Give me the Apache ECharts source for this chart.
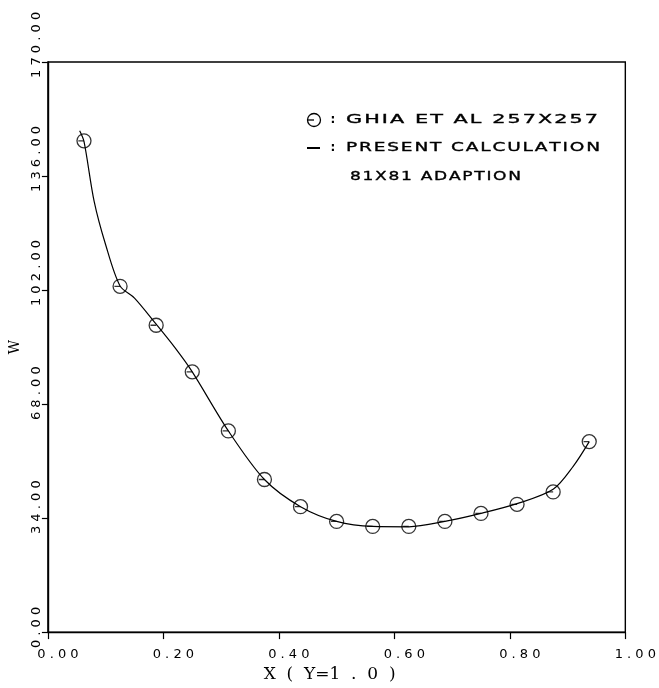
<!DOCTYPE html>
<html>
<head>
<meta charset="utf-8">
<script src="https://cdn.jsdelivr.net/npm/echarts@6/dist/echarts.min.js"></script>
<style>
  html, body { margin: 0; padding: 0; background: #fff; }
  #chart { width: 659px; height: 688px; }
</style>
</head>
<body>
<div id="chart"></div>
<script>
// Ghia et al. 257x257 : vorticity on the lid (circles)
const ghiaX = [0.0625, 0.125, 0.1875, 0.25, 0.3125, 0.375, 0.4375, 0.5, 0.5625, 0.625, 0.6875, 0.75, 0.8125, 0.875, 0.9375];
const ghiaW = [146.5, 103.1, 91.5, 77.6, 60.0, 45.5, 37.4, 33.0, 31.5, 31.5, 33.0, 35.4, 38.1, 41.8, 56.8];

// present calculation, 81x81 adaption (solid curve)
const calcX = [0.055, 0.0625, 0.08, 0.1, 0.125, 0.15, 0.1875, 0.22, 0.25, 0.3125, 0.375, 0.4375, 0.5, 0.5625, 0.625, 0.6875, 0.75, 0.8125, 0.875, 0.91, 0.9375];
const calcW = [149.5, 146.3, 128.5, 115.5, 103.2, 99.6, 91.8, 84.8, 77.6, 60.0, 45.5, 37.4, 33.0, 31.5, 31.4, 33.0, 35.4, 38.3, 42.6, 49.5, 56.8];

const xTicks = [0, 0.2, 0.4, 0.6, 0.8, 1.0];
const yTicks = [0, 34, 68, 102, 136, 170];
const legendLines = ['GHIA ET AL 257X257', 'PRESENT CALCULATION', '81X81 ADAPTION'];

const ink = '#000';
const tickFont = '"DejaVu Sans", sans-serif';

// plotter style numbers, every glyph spread apart
const plotNum = v => v.toFixed(2).split('').join(' ');

const ctx = document.createElement('canvas').getContext('2d');
const measure = (text, font) => { ctx.font = font; return ctx.measureText(text).width; };

// y labels start ~16px below their tick and run upward
const yRich = {};
yTicks.forEach((v, i) => {
    const w = measure(plotNum(v), '13px "DejaVu Sans"');
    yRich['t' + i] = {
        fontSize: 13,
        fontFamily: tickFont,
        color: ink,
        padding: [0, 0, 0, Math.max(0, w - 32)]
    };
});

// stretched legend text
const legendText = (str, x, y, w) => {
    const font = '12.5px "DejaVu Sans"';
    const text = str.split('').join('\u200A');
    return {
        type: 'text',
        x: x,
        y: y,
        scaleX: w / measure(text, font),
        style: { text: text, font: font, fill: ink, stroke: ink, lineWidth: 0.35, align: 'left', verticalAlign: 'middle' }
    };
};

const chart = echarts.init(document.getElementById('chart'));

const option = {
    backgroundColor: '#fff',
    animation: false,
    grid: {
        left: 46,
        right: 32,
        top: 62,
        bottom: 54,
        show: true,
        borderColor: ink,
        borderWidth: 1.4,
        backgroundColor: 'transparent'
    },
    xAxis: {
        type: 'value',
        min: xTicks[0],
        max: xTicks[xTicks.length - 1],
        interval: xTicks[1] - xTicks[0],
        name: 'X  (  Y=1  .  0  )',
        nameLocation: 'middle',
        nameGap: 33,
        nameTextStyle: { fontFamily: '"DejaVu Serif", serif', fontSize: 17, color: ink, padding: [0, 14, 0, 0] },
        axisLine: { lineStyle: { color: ink, width: 1.4 } },
        axisTick: { show: true, inside: false, length: 7, lineStyle: { color: ink, width: 1.2 } },
        axisLabel: {
            margin: 16,
            fontSize: 13,
            fontFamily: tickFont,
            color: ink,
            padding: [0, 0, 0, 20],
            formatter: v => plotNum(v)
        },
        splitLine: { show: false }
    },
    yAxis: {
        type: 'value',
        min: yTicks[0],
        max: yTicks[yTicks.length - 1],
        interval: yTicks[1] - yTicks[0],
        name: 'W',
        nameLocation: 'middle',
        nameRotate: 90,
        nameGap: 25,
        nameTextStyle: { fontFamily: '"DejaVu Serif", serif', fontSize: 14, color: ink },
        axisLine: { lineStyle: { color: ink, width: 1.4 } },
        axisTick: { show: true, inside: false, length: 6, lineStyle: { color: ink, width: 1.2 } },
        axisLabel: {
            rotate: 90,
            margin: 5,
            formatter: v => '{t' + yTicks.indexOf(v) + '|' + plotNum(v) + '}',
            rich: yRich
        },
        splitLine: { show: false }
    },
    graphic: [
        { type: 'circle', shape: { cx: 314, cy: 120, r: 6.5 }, style: { fill: 'none', stroke: ink, lineWidth: 1.3 } },
        { type: 'line', shape: { x1: 308, y1: 120, x2: 314, y2: 120 }, style: { stroke: ink, lineWidth: 1.3 } },
        { type: 'text', x: 333, y: 120, style: { text: ':', font: 'bold 12px "DejaVu Sans"', fill: ink, align: 'center', verticalAlign: 'middle' } },
        legendText(legendLines[0], 346, 120, 252),
        { type: 'line', shape: { x1: 307, y1: 148, x2: 320, y2: 148 }, style: { stroke: ink, lineWidth: 2 } },
        { type: 'text', x: 333, y: 148, style: { text: ':', font: 'bold 12px "DejaVu Sans"', fill: ink, align: 'center', verticalAlign: 'middle' } },
        legendText(legendLines[1], 346, 148, 254),
        legendText(legendLines[2], 350, 177, 171)
    ],
    series: [
        {
            name: 'PRESENT CALCULATION',
            type: 'line',
            data: calcX.map((x, i) => [x, calcW[i]]),
            smooth: 0.3,
            showSymbol: false,
            lineStyle: { color: ink, width: 1.2 },
            z: 2
        },
        {
            name: 'GHIA ET AL 257X257',
            type: 'scatter',
            data: ghiaX.map((x, i) => [x, ghiaW[i]]),
            symbol: 'path://M0,8A8,8,0,1,1,16,8A8,8,0,1,1,0,8ZM1.5,8L8,8',
            symbolSize: 14,
            itemStyle: { color: 'transparent', borderColor: ink, borderWidth: 1.3 },
            z: 3
        }
    ]
};

chart.setOption(option);
</script>
</body>
</html>
